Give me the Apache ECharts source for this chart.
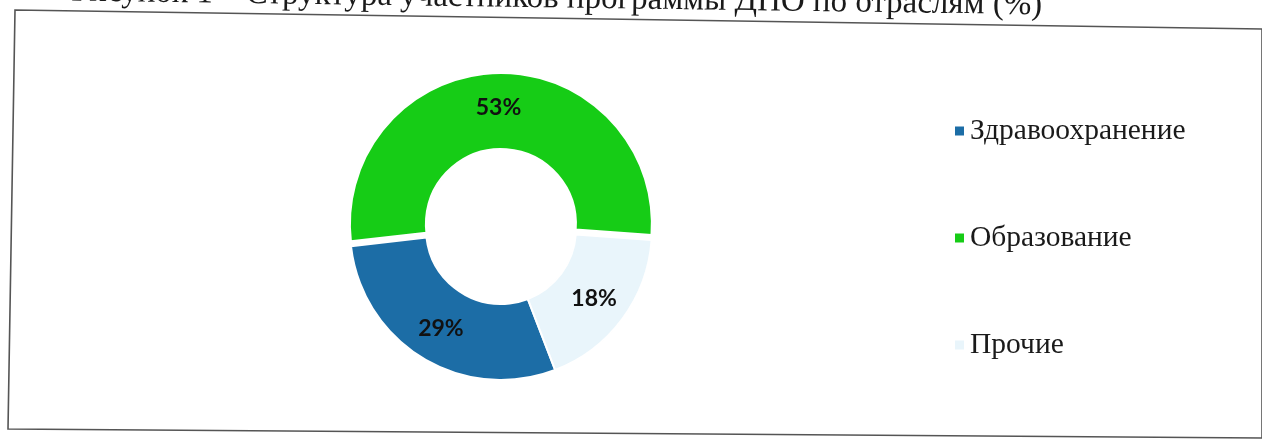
<!DOCTYPE html>
<html>
<head>
<meta charset="utf-8">
<script src="https://cdn.jsdelivr.net/npm/echarts@6/dist/echarts.min.js"></script>
<style>
  html, body { margin: 0; padding: 0; background: #ffffff; }
  #chart { width: 1262px; height: 441px; }
</style>
</head>
<body>
<div id="chart"></div>
<script>
// ---- data ----
const categories = ['Здравоохранение', 'Образование', 'Прочие'];
const shares = [29, 53, 18];
const titleText = 'Рисунок 1 – Структура участников программы ДПО по отраслям (%)';

const sliceColors = ['#1c6da6', '#16cc16', '#e9f5fb'];

const chart = echarts.init(document.getElementById('chart'), null, { renderer: 'canvas' });

const pieData = categories.map((name, i) => {
  const item = {
    name: name,
    value: shares[i],
    itemStyle: { color: sliceColors[i] },
    select: { itemStyle: { color: sliceColors[i], borderColor: '#ffffff', borderWidth: 2 } }
  };
  if (i === 1) item.selected = true;
  return item;
});

chart.setOption({
  animation: false,
  backgroundColor: '#ffffff',
  graphic: [
    {
      type: 'polygon',
      shape: { points: [[15, 10], [1262, 29], [1262, 438], [8, 429]] },
      style: { fill: 'none', stroke: '#555555', lineWidth: 1.6 },
      silent: true
    },
    {
      type: 'text',
      x: 1042, y: 22,
      rotation: -0.014,
      style: {
        text: titleText,
        fontFamily: '"Liberation Serif", "DejaVu Serif", serif',
        fontSize: 33,
        fill: '#1a1a1a',
        align: 'right',
        verticalAlign: 'bottom'
      },
      silent: true
    }
  ],
  legend: {
    orient: 'vertical',
    left: 953,
    top: 116,
    padding: 0,
    itemWidth: 11,
    itemHeight: 11,
    itemGap: 77,
    icon: 'rect',
    selectedMode: false,
    data: categories,
    textStyle: {
      fontFamily: '"Liberation Serif", "DejaVu Serif", serif',
      fontSize: 29.5,
      lineHeight: 30,
      color: '#1a1a1a',
      padding: [0, 0, 0, 0]
    }
  },
  series: [{
    type: 'pie',
    center: [501, 229],
    radius: [75, 151],
    startAngle: -69,
    clockwise: true,
    selectedMode: 'single',
    selectedOffset: 5,
    avoidLabelOverlap: false,
    itemStyle: { borderColor: '#ffffff', borderWidth: 2 },
    label: {
      show: true,
      position: 'inside',
      formatter: '{c}%',
      fontFamily: 'Lato, "Open Sans", sans-serif',
      fontWeight: 'bold',
      fontSize: 23,
      color: '#111111'
    },
    labelLine: { show: false },
    emphasis: { disabled: true },
    data: pieData
  }]
});
</script>
</body>
</html>
